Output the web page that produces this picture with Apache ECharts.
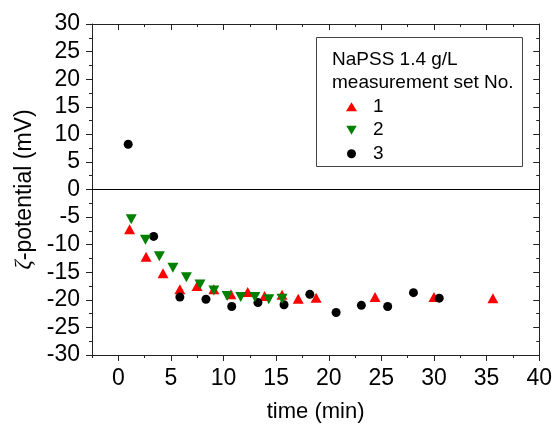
<!DOCTYPE html>
<html>
<head>
<meta charset="utf-8">
<script src="https://cdn.jsdelivr.net/npm/echarts@6/dist/echarts.min.js"></script>
<style>
html,body{margin:0;padding:0;background:#fff;}
#chart{width:555px;height:428px;}
</style>
</head>
<body>
<div id="chart"></div>
<script>
// Data
var set1Time = [1.07, 2.64, 4.25, 5.85, 7.48, 9.08, 10.7, 12.3, 13.9, 15.56, 17.1, 18.8, 24.4, 30.0, 35.6];
var set1Zeta = [-7.2, -12.2, -15.2, -18.1, -17.5, -18.1, -19.0, -18.6, -19.3, -19.1, -19.8, -19.6, -19.5, -19.5, -19.7];
var set2Time = [1.23, 2.58, 3.9, 5.19, 6.47, 7.76, 9.08, 10.34, 11.63, 12.98, 14.3, 15.56];
var set2Zeta = [-5.4, -9.1, -12.1, -14.2, -15.9, -17.2, -18.3, -19.3, -19.5, -19.5, -19.9, -19.8];
var set3Time = [0.94, 3.36, 5.85, 8.33, 10.78, 13.27, 15.75, 18.2, 20.7, 23.1, 25.6, 28.05, 30.5];
var set3Zeta = [8.2, -8.5, -19.5, -19.9, -21.2, -20.5, -20.9, -19.0, -22.3, -21.0, -21.2, -18.7, -19.7];
var seriesNames = ['1', '2', '3'];
var xMajorTicks = [0, 5, 10, 15, 20, 25, 30, 35, 40];
var xMinorTicks = [-2.5, 2.5, 7.5, 12.5, 17.5, 22.5, 27.5, 32.5, 37.5];
var legendTitle = ['NaPSS 1.4 g/L', 'measurement set No.'];

function pairs(xs, ys) { return xs.map(function (x, i) { return [x, ys[i]]; }); }

var FONT = '"Liberation Sans", Arial, sans-serif';
var AX = '#222';
var downTri = 'path://M0,0L10,0L5,8.66Z';

var chart = echarts.init(document.getElementById('chart'), null, {renderer: 'canvas'});
var xBase = {
  type: 'value', min: -2.5, max: 40, gridIndex: 0,
  splitLine: {show: false}
};
var option = {
  animation: false,
  backgroundColor: '#fff',
  textStyle: {fontFamily: FONT},
  grid: {left: 92, right: 13, top: 24, bottom: 73, containLabel: false},
  xAxis: [
    Object.assign({}, xBase, {
      position: 'bottom',
      axisLine: {show: true, onZero: false, lineStyle: {color: AX, width: 1}},
      axisTick: {show: true, inside: false, length: 6, customValues: xMajorTicks, lineStyle: {color: AX}},
      axisLabel: {show: true, customValues: xMajorTicks, margin: 12, fontSize: 23, color: '#000', fontFamily: FONT},
      name: 'time (min)', nameLocation: 'middle', nameGap: 46,
      nameTextStyle: {fontSize: 22, color: '#000', fontFamily: FONT}
    }),
    Object.assign({}, xBase, {
      position: 'bottom',
      axisLine: {show: false, onZero: false},
      axisTick: {show: true, inside: false, length: 3, customValues: xMinorTicks, lineStyle: {color: AX}},
      axisLabel: {show: false}
    }),
    Object.assign({}, xBase, {
      position: 'top',
      axisLine: {show: true, onZero: false, lineStyle: {color: AX, width: 1}},
      axisTick: {show: true, inside: true, length: 6, customValues: xMajorTicks, lineStyle: {color: AX}},
      axisLabel: {show: false}
    }),
    Object.assign({}, xBase, {
      position: 'top',
      axisLine: {show: false, onZero: false},
      axisTick: {show: true, inside: true, length: 3, customValues: xMinorTicks, lineStyle: {color: AX}},
      axisLabel: {show: false}
    })
  ],
  yAxis: [
    {
      type: 'value', min: -30, max: 30, interval: 5, position: 'left',
      splitLine: {show: false},
      axisLine: {show: true, onZero: false, lineStyle: {color: AX, width: 1}},
      axisTick: {show: true, inside: false, length: 6, lineStyle: {color: AX}},
      minorTick: {show: true, splitNumber: 2, length: 3, lineStyle: {color: AX}},
      axisLabel: {fontSize: 23, color: '#000', margin: 12, fontFamily: FONT},
      name: '{z|ζ}-potential (mV)', nameLocation: 'middle', nameGap: 56,
      nameTextStyle: {
        fontSize: 23, color: '#000', fontFamily: FONT,
        rich: {z: {fontSize: 23, fontStyle: 'italic', fontFamily: '"Liberation Serif", "DejaVu Serif", serif', color: '#000'}}
      }
    },
    {
      type: 'value', min: -30, max: 30, interval: 5, position: 'right',
      splitLine: {show: false},
      axisLine: {show: true, onZero: false, lineStyle: {color: AX, width: 1}},
      axisTick: {show: true, inside: true, length: 6, lineStyle: {color: AX}},
      minorTick: {show: true, splitNumber: 2, length: 3, lineStyle: {color: AX}},
      axisLabel: {show: false}
    }
  ],
  legend: {
    orient: 'vertical', left: 346, top: 95,
    itemWidth: 11, itemHeight: 9, itemGap: 0,
    padding: 0,
    data: [
      {name: seriesNames[0], icon: 'triangle'},
      {name: seriesNames[1], icon: downTri},
      {name: seriesNames[2], icon: 'circle'}
    ],
    textStyle: {fontSize: 19, lineHeight: 23.5, color: '#000', fontFamily: FONT, padding: [0, 0, 0, 11]},
    selectedMode: false
  },
  graphic: [
    {type: 'rect', left: 316, top: 37, shape: {width: 206, height: 129}, style: {fill: 'rgba(0,0,0,0)', stroke: '#444', lineWidth: 1}, z: 5},
    {type: 'text', left: 332, top: 50, style: {text: legendTitle[0], font: '19px ' + FONT, fill: '#000'}, z: 6},
    {type: 'text', left: 332, top: 73, style: {text: legendTitle[1], font: '19px ' + FONT, fill: '#000'}, z: 6}
  ],
  series: [
    {
      name: seriesNames[0], type: 'scatter', xAxisIndex: 0, yAxisIndex: 0,
      symbol: 'triangle', symbolSize: [11, 10],
      itemStyle: {color: '#ff0000', opacity: 1},
      data: pairs(set1Time, set1Zeta), z: 2,
      markLine: {
        silent: true, symbol: 'none', label: {show: false},
        lineStyle: {color: '#000', width: 1, type: 'solid'},
        data: [{yAxis: 0}]
      }
    },
    {
      name: seriesNames[2], type: 'scatter', xAxisIndex: 0, yAxisIndex: 0,
      symbol: 'circle', symbolSize: 9,
      itemStyle: {color: '#000', opacity: 1},
      data: pairs(set3Time, set3Zeta), z: 3
    },
    {
      name: seriesNames[1], type: 'scatter', xAxisIndex: 0, yAxisIndex: 0,
      symbol: downTri, symbolSize: [11, 10],
      itemStyle: {color: '#008000', opacity: 1},
      data: pairs(set2Time, set2Zeta), z: 4
    }
  ]
};
chart.setOption(option);
</script>
</body>
</html>
